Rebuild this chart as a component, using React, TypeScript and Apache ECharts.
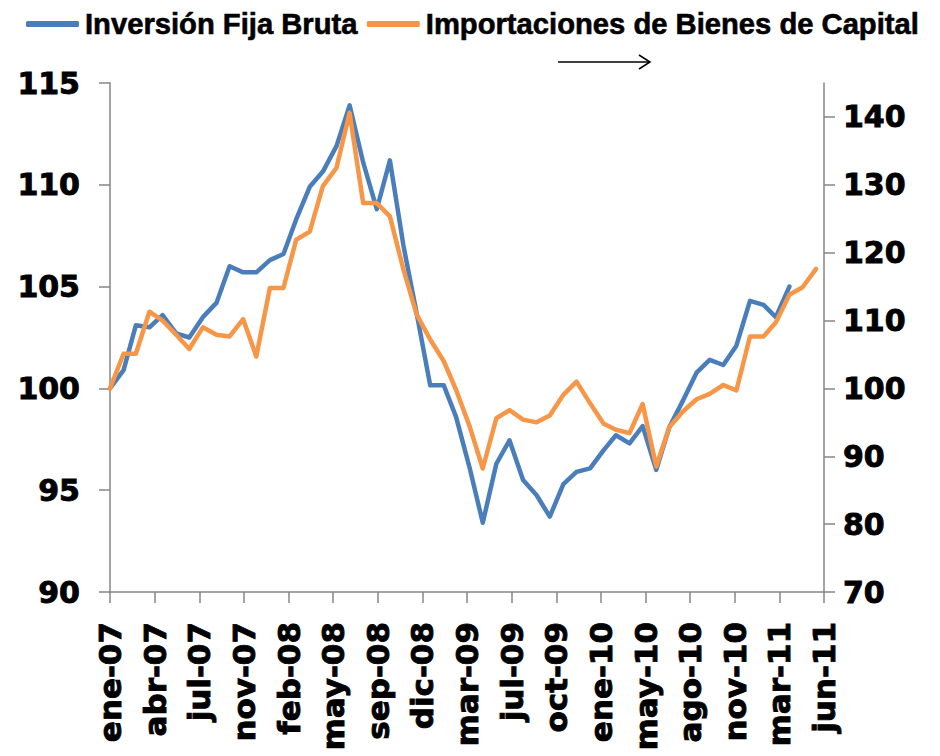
import React, { useEffect, useRef } from "react";
import * as echarts from "echarts";

// Monthly series, first month = January 2007
const START_YEAR = 2007;
const seriesNames = ["Inversión Fija Bruta", "Importaciones de Bienes de Capital"];

// Inversión Fija Bruta (left axis), Jan-2007 .. Apr-2011
const inversion = [
  100.0, 100.9, 103.1, 103.0, 103.6, 102.7, 102.5, 103.5, 104.2, 106.0, 105.7, 105.7,
  106.3, 106.6, 108.3, 109.9, 110.65, 111.9, 113.9, 111.1, 108.8, 111.2, 107.0, 103.7,
  100.15, 100.15, 98.6, 96.1, 93.4, 96.3, 97.45, 95.5, 94.75, 93.7, 95.3, 95.9,
  96.07, 96.97, 97.7, 97.3, 98.15, 96.0, 98.1, 99.4, 100.77, 101.4, 101.15, 102.1,
  104.3, 104.1, 103.5, 105.0,
];

// Importaciones de Bienes de Capital (right axis), Jan-2007 .. Jun-2011
const importaciones = [
  100.0, 105.1, 105.1, 111.3, 110.0, 107.9, 105.8, 109.0, 107.9, 107.65, 110.2, 104.7,
  114.8, 114.8, 121.9, 123.1, 129.8, 132.5, 140.6, 127.3, 127.3, 125.35, 117.5, 110.9,
  107.2, 104.0, 99.8, 94.4, 88.2, 95.6, 96.8, 95.4, 95.0, 96.0, 99.05, 101.0,
  97.8, 94.8, 93.9, 93.4, 97.7, 88.5, 94.3, 96.6, 98.4, 99.2, 100.5, 99.7,
  107.65, 107.65, 109.7, 113.8, 114.9, 117.6,
];

const xTickLabels = [
  "ene-07", "abr-07", "jul-07", "nov-07", "feb-08", "may-08", "sep-08", "dic-08",
  "mar-09", "jul-09", "oct-09", "ene-10", "may-10", "ago-10", "nov-10", "mar-11", "jun-11",
];
const X_AXIS_DAYS = 1630; // date span of the time axis (days from 1-Jan-2007)
const leftTicks = [90, 95, 100, 105, 110, 115];
const rightTicks = [70, 80, 90, 100, 110, 120, 130, 140];

const DAY = 86400000;
const dayOffset = (i: number) =>
  (Date.UTC(START_YEAR, i, 1) - Date.UTC(START_YEAR, 0, 1)) / DAY;

const xStep = X_AXIS_DAYS / (xTickLabels.length - 1);
const xTickValues = xTickLabels.map((_, k) => k * xStep);

const AXIS_COLOR = "#868686";
const NUM_FONT = "DejaVu Sans";
const TXT_FONT = "Liberation Sans, Arial, sans-serif";

export default function App() {
  const ref = useRef<HTMLDivElement>(null);

  useEffect(() => {
    if (!ref.current) return;
    const chart = echarts.init(ref.current, null, { renderer: "svg" });

    const axisLineStyle = { color: AXIS_COLOR, width: 1.5 };
    const numText = {
      fontFamily: NUM_FONT,
      fontWeight: "bold",
      color: "#000",
      textBorderColor: "#000",
      textBorderWidth: 0.9,
    };

    chart.setOption({
      animation: false,
      backgroundColor: "#ffffff",
      grid: { left: 110, right: 116, top: 83, bottom: 164, containLabel: false },
      legend: {
        top: 2,
        left: 21,
        itemWidth: 53,
        itemHeight: 6,
        itemGap: 9,
        icon: "roundRect",
        textStyle: {
          fontFamily: TXT_FONT,
          fontWeight: "bold",
          fontSize: 29.2,
          color: "#000",
          textBorderColor: "#000",
          textBorderWidth: 0.6,
          lineHeight: 34,
          padding: [0, 0, 0, 1],
        },
        data: seriesNames,
      },
      xAxis: {
        type: "value",
        min: 0,
        max: X_AXIS_DAYS,
        interval: xStep,
        splitLine: { show: false },
        axisLine: { show: true, lineStyle: axisLineStyle },
        axisTick: {
          show: true,
          length: 11,
          lineStyle: axisLineStyle,
          customValues: xTickValues,
        },
        axisLabel: {
          ...numText,
          customValues: xTickValues,
          rotate: 90,
          margin: 30,
          fontSize: 31,
          formatter: (v: number) => xTickLabels[Math.round(v / xStep)] ?? "",
        },
      },
      yAxis: [
        {
          type: "value",
          position: "left",
          min: 90,
          max: 115,
          interval: 5,
          splitLine: { show: false },
          axisLine: { show: true, lineStyle: axisLineStyle },
          axisTick: { show: true, length: 11, lineStyle: axisLineStyle, customValues: leftTicks },
          axisLabel: {
            ...numText,
            customValues: leftTicks,
            margin: 30,
            fontSize: 30,
          },
        },
        {
          type: "value",
          position: "right",
          min: 70,
          max: 145,
          interval: 10,
          splitLine: { show: false },
          axisLine: { show: true, lineStyle: axisLineStyle },
          axisTick: { show: true, length: 11, lineStyle: axisLineStyle, customValues: rightTicks },
          axisLabel: {
            ...numText,
            customValues: rightTicks,
            margin: 19,
            fontSize: 30,
          },
        },
      ],
      series: [
        {
          name: seriesNames[0],
          type: "line",
          yAxisIndex: 0,
          showSymbol: false,
          color: "#4A7EBB",
          lineStyle: { width: 4.5, color: "#4A7EBB", cap: "round", join: "round" },
          data: inversion.map((v, i) => [dayOffset(i), v]),
          z: 2,
        },
        {
          name: seriesNames[1],
          type: "line",
          yAxisIndex: 1,
          showSymbol: false,
          color: "#F79646",
          lineStyle: { width: 4.5, color: "#F79646", cap: "round", join: "round" },
          data: importaciones.map((v, i) => [dayOffset(i), v]),
          z: 3,
        },
      ],
      graphic: [
        {
          type: "line",
          shape: { x1: 558, y1: 62, x2: 650, y2: 62 },
          style: { stroke: "#000", lineWidth: 1.5 },
        },
        {
          type: "polyline",
          shape: { points: [[639, 55], [650, 62], [639, 69]] },
          style: { stroke: "#000", lineWidth: 1.5, fill: null },
        },
      ],
    });

    return () => chart.dispose();
  }, []);

  return (
    <div
      ref={ref}
      style={{ position: "absolute", left: 0, top: 0, width: 940, height: 756, background: "#fff" }}
    />
  );
}
